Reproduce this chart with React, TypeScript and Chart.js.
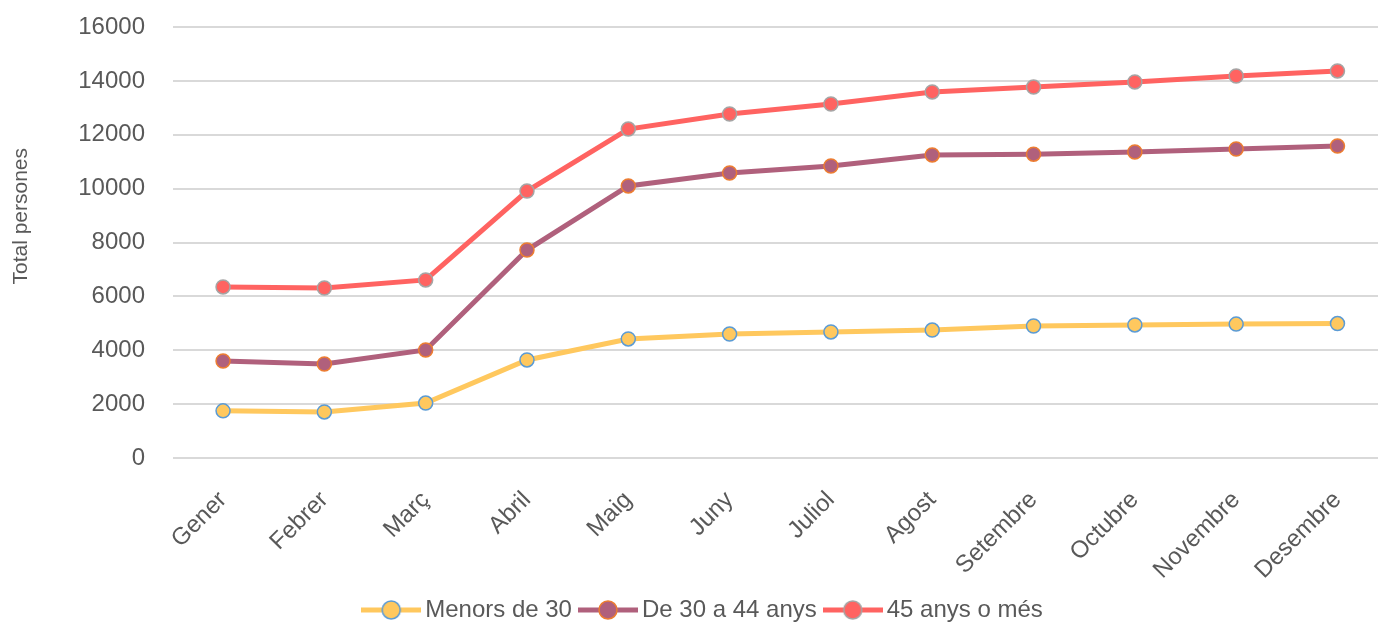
import React, { useEffect, useRef } from "react";
import { Chart, registerables } from "chart.js";

Chart.register(...registerables);

const months = ["Gener", "Febrer", "Març", "Abril", "Maig", "Juny", "Juliol", "Agost", "Setembre", "Octubre", "Novembre", "Desembre"];
const menors30 = [1750, 1710, 2040, 3640, 4420, 4600, 4680, 4750, 4900, 4940, 4970, 4990];
const de30a44 = [3600, 3490, 4010, 7720, 10100, 10580, 10840, 11250, 11280, 11360, 11470, 11580];
const mes45 = [6350, 6310, 6610, 9910, 12210, 12770, 13140, 13590, 13770, 13960, 14180, 14370];
const yTicks = [0, 2000, 4000, 6000, 8000, 10000, 12000, 14000, 16000];

const seriesNames = ["Menors de 30", "De 30 a 44 anys", "45 anys o més"];
const lineColors = ["#FFC85E", "#B0607C", "#FF6361"];
const markerBorders = ["#5B9BD5", "#ED7D31", "#A5A5A5"];

const TEXT = "#595959";
const FONT = "'Liberation Sans', Arial, sans-serif";

function legendImage(color: string, border: string) {
  const c = document.createElement("canvas");
  c.width = 60;
  c.height = 22;
  const g = c.getContext("2d")!;
  g.strokeStyle = color;
  g.lineWidth = 5;
  g.beginPath();
  g.moveTo(0, 11);
  g.lineTo(60, 11);
  g.stroke();
  g.beginPath();
  g.arc(30, 11, 9, 0, Math.PI * 2);
  g.fillStyle = color;
  g.fill();
  g.lineWidth = 1.5;
  g.strokeStyle = border;
  g.stroke();
  return c;
}

export default function App() {
  const ref = useRef<HTMLCanvasElement | null>(null);

  useEffect(() => {
    const series = [menors30, de30a44, mes45];
    const images = series.map((_, i) => legendImage(lineColors[i], markerBorders[i]));
    const legendShift = {
      id: "legendShift",
      afterLayout(chart: any) {
        if (chart.legend) {
          chart.legend.left += 17;
          chart.legend.right += 17;
        }
      },
    };
    const chart = new Chart(ref.current!, {
      type: "line",
      data: {
        datasets: series.map((vals, i) => ({
          label: seriesNames[i],
          data: vals.map((v, k) => ({ x: k, y: v })),
          borderColor: lineColors[i],
          backgroundColor: lineColors[i],
          borderWidth: 5,
          pointRadius: 7,
          pointHoverRadius: 7,
          pointBackgroundColor: lineColors[i],
          pointBorderColor: markerBorders[i],
          pointBorderWidth: 1.5,
          tension: 0,
          fill: false,
          clip: false,
        })),
      },
      plugins: [legendShift],
      options: {
        animation: false,
        responsive: true,
        maintainAspectRatio: false,
        layout: { autoPadding: false, padding: { top: 27, left: 0, right: 0, bottom: -7 } },
        plugins: {
          tooltip: { enabled: false },
          legend: {
            position: "bottom",
            labels: {
              usePointStyle: true,
              pointStyleWidth: 44,
              padding: 14,
              color: TEXT,
              font: { family: FONT, size: 24 },
              generateLabels: (ch: any) =>
                ch.data.datasets.map((ds: any, i: number) => ({
                  text: ds.label,
                  pointStyle: images[i],
                  fillStyle: lineColors[i],
                  strokeStyle: lineColors[i],
                  lineWidth: 0,
                  hidden: false,
                  datasetIndex: i,
                  fontColor: TEXT,
                })),
            },
          },
        },
        scales: {
          x: {
            type: "linear",
            min: -0.494,
            max: 11.4,
            grid: { display: false },
            border: { display: false },
            afterBuildTicks: (scale: any) => {
              scale.ticks = months.map((_, i) => ({ value: i }));
            },
            afterFit: (scale: any) => {
              scale.height = 126;
              scale.paddingLeft = 0;
              scale.paddingRight = 0;
            },
            ticks: {
              autoSkip: false,
              minRotation: 45,
              maxRotation: 45,
              padding: 20,
              color: TEXT,
              font: { family: FONT, size: 24 },
              callback: (v: any) => months[v] ?? "",
            },
          },
          y: {
            min: 0,
            max: 16000,
            afterBuildTicks: (scale: any) => {
              scale.ticks = yTicks.map((v) => ({ value: v }));
            },
            afterFit: (scale: any) => {
              scale.width = 173;
              scale.paddingTop = 0;
              scale.paddingBottom = 0;
            },
            grid: { color: "#D9D9D9", lineWidth: 2, drawTicks: false },
            border: { display: false },
            title: {
              display: true,
              text: "         Total persones",
              color: TEXT,
              font: { family: FONT, size: 21 },
              padding: { top: 9, bottom: 0 },
            },
            ticks: {
              padding: 28,
              color: TEXT,
              font: { family: FONT, size: 24 },
              callback: (v: any) => String(v),
            },
          },
        },
      },
    });
    return () => chart.destroy();
  }, []);

  return (
    <div style={{ position: "fixed", left: 0, top: 0, width: 1378, height: 625, background: "#fff" }}>
      <canvas ref={ref} />
    </div>
  );
}
